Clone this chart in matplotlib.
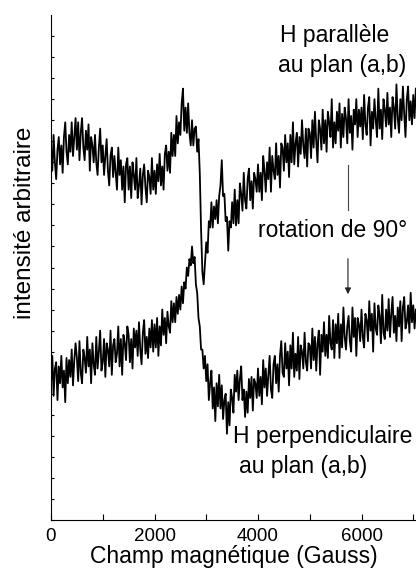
import numpy as np
import matplotlib
matplotlib.use("Agg")
import matplotlib.pyplot as plt

plt.rcParams['font.family'] = ['Liberation Sans', 'DejaVu Sans']

# champ magnetique (Gauss), pas de 25 G
champ = np.arange(0, 7051, 25)

# H parallele au plan (a,b) - intensite arbitraire
h_par = [
    177, 166, 183, 170, 162, 176, 182, 169, 178, 165, 182, 189, 175, 169, 183, 175, 189, 173, 182, 191,
    176, 189, 171, 184, 191, 177, 171, 185, 176, 188, 166, 182, 178, 170, 183, 170, 164, 177, 186, 170,
    178, 164, 173, 181, 166, 159, 173, 177, 163, 173, 165, 157, 177, 164, 171, 157, 168, 151, 169, 172,
    157, 168, 153, 170, 164, 157, 172, 153, 159, 167, 150, 164, 169, 158, 151, 166, 163, 155, 172, 157,
    166, 155, 169, 161, 174, 159, 168, 157, 174, 178, 166, 175, 165, 184, 173, 183, 173, 192, 179, 189,
    183, 198, 205, 185, 196, 184, 198, 184, 178, 190, 178, 186, 187, 175, 181, 165, 138, 118, 112, 122,
    132, 127, 142, 139, 151, 139, 149, 143, 152, 141, 154, 159, 171, 154, 155, 142, 144, 128, 142, 139,
    151, 141, 157, 140, 152, 141, 160, 155, 147, 165, 152, 148, 162, 167, 152, 161, 148, 165, 162, 156,
    169, 156, 165, 152, 173, 166, 156, 170, 162, 177, 156, 173, 166, 162, 179, 164, 173, 158, 179, 177,
    166, 183, 170, 179, 163, 183, 170, 189, 169, 179, 184, 168, 182, 174, 190, 178, 172, 186, 168, 186,
    184, 172, 190, 177, 194, 180, 170, 190, 186, 176, 195, 179, 190, 175, 194, 189, 182, 200, 177, 189,
    179, 194, 185, 198, 177, 193, 182, 196, 191, 179, 200, 184, 192, 176, 195, 188, 200, 182, 195, 187,
    196, 181, 202, 188, 183, 196, 201, 178, 194, 186, 200, 190, 182, 205, 186, 195, 181, 200, 195, 187,
    203, 188, 196, 182, 201, 196, 186, 207, 191, 184, 200, 190, 206, 193, 182, 200, 206, 190, 199, 188,
    202, 191, 205,
]

# H perpendiculaire au plan (a,b)
h_perp = [
    65, 78, 59, 72, 75, 57, 73, 65, 78, 63, 71, 56, 77, 65, 76, 68, 81, 64, 76, 84,
    77, 66, 85, 70, 65, 81, 77, 70, 87, 73, 81, 65, 84, 74, 69, 87, 72, 80, 90, 71,
    75, 86, 68, 84, 81, 73, 90, 69, 83, 86, 75, 79, 92, 73, 86, 69, 88, 84, 76, 92,
    88, 75, 86, 72, 91, 82, 90, 78, 94, 81, 74, 89, 95, 79, 87, 77, 91, 82, 95, 80,
    93, 82, 96, 78, 92, 83, 100, 88, 96, 84, 99, 92, 89, 104, 94, 103, 94, 106, 98, 107,
    100, 111, 103, 113, 110, 120, 116, 124, 121, 130, 122, 125, 112, 108, 96, 92, 81, 81, 72, 78,
    66, 74, 57, 65, 71, 53, 63, 47, 65, 54, 69, 53, 64, 48, 57, 60, 41, 56, 45, 62,
    58, 51, 69, 61, 71, 57, 67, 73, 57, 62, 49, 61, 51, 67, 58, 68, 52, 67, 65, 58,
    72, 59, 68, 55, 76, 63, 72, 59, 69, 78, 62, 58, 74, 78, 65, 74, 61, 78, 85, 70,
    68, 84, 72, 80, 64, 83, 72, 89, 68, 79, 71, 87, 67, 83, 80, 72, 89, 75, 71, 84,
    83, 72, 91, 76, 87, 71, 84, 90, 69, 88, 80, 94, 78, 88, 77, 97, 84, 81, 95, 77,
    93, 84, 98, 77, 93, 82, 101, 87, 81, 92, 97, 85, 80, 101, 87, 96, 78, 96, 93, 85,
    100, 87, 82, 98, 95, 85, 104, 90, 98, 80, 103, 91, 88, 102, 97, 84, 107, 89, 86, 100,
    90, 105, 87, 98, 106, 89, 97, 85, 101, 92, 104, 85, 101, 106, 91, 94, 102, 89, 108, 94,
    102, 91, 100,
]

fig = plt.figure(figsize=(4.16, 5.69), dpi=100)
ax = fig.add_axes([51/416, 1 - 520/569, 365/416, 505/569])

ax.plot(champ, h_par, color='black', lw=1.3)
ax.plot(champ, h_perp, color='black', lw=1.3)

ax.set_xlim(0, 7053)
ax.set_ylim(0, 240)
ax.spines['top'].set_visible(False)
ax.spines['right'].set_visible(False)

ax.set_xticks(np.arange(0, 7001, 1000))
ax.set_xticklabels(['0', '', '2000', '', '4000', '', '6000', ''])
ax.set_yticks(np.arange(0, 231, 10))
ax.set_yticklabels([])
ax.tick_params(axis='x', direction='in', length=4, labelsize=13.5, pad=6)
ax.tick_params(axis='y', direction='in', length=2.5)

ax.set_xlabel('Champ magnétique (Gauss)', fontsize=16.5, labelpad=0)
ax.set_ylabel('intensité arbitraire', fontsize=17.5, va='center')
ax.yaxis.set_label_coords(-0.071, 0.588)

# annotations
ax.text(4424, 227, 'H parallèle', fontsize=16.5, va='baseline')
ax.text(4386, 213, 'au plan (a,b)', fontsize=16.5, va='baseline')
ax.text(3999, 134.5, 'rotation de 90°', fontsize=16.5, va='baseline')
ax.plot([5738, 5738], [147.3, 168.7], color='#444444', lw=0.8)
ax.annotate('', xy=(5738, 106), xytext=(5738, 125.5),
            arrowprops=dict(arrowstyle='-|>', color='#222222', lw=0.8, mutation_scale=9))
ax.text(3516, 36.6, 'H perpendiculaire', fontsize=16.5, va='baseline')
ax.text(3632, 22.3, 'au plan (a,b)', fontsize=16.5, va='baseline')

fig.savefig('out.png', dpi=100)
